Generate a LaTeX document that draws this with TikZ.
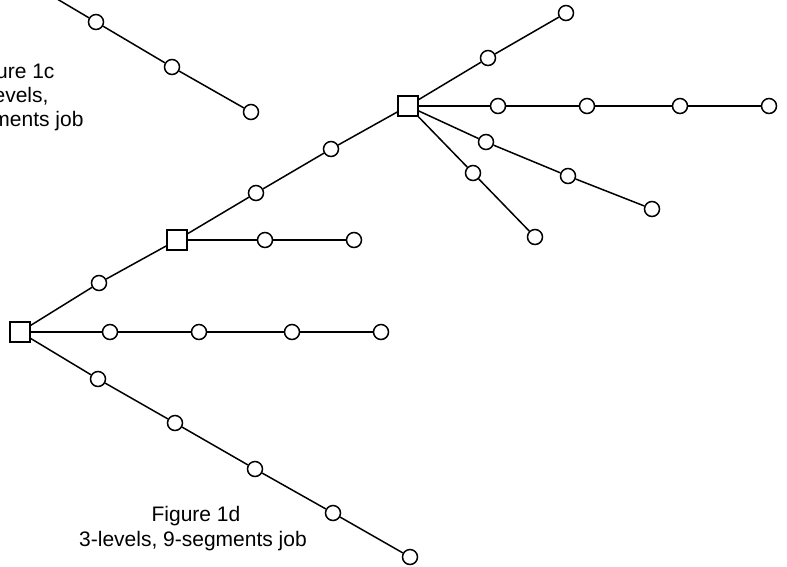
\documentclass[tikz,border=0pt]{standalone}
\usepackage{fontspec}
\setmainfont{Liberation Sans}
\begin{document}
\begin{tikzpicture}[x=1pt,y=-1pt,
  seg/.style={circle,draw,line width=1.5pt,fill=white,minimum size=15pt,inner sep=0pt},
  lvl/.style={rectangle,draw,line width=1.5pt,fill=white,minimum size=20pt,inner sep=0pt},
  link/.style={line width=1.5pt},
  caption/.style={font=\fontsize{21}{25}\selectfont,align=center}]
\useasboundingbox (0,0) rectangle (787,566);
\clip (0,0) rectangle (787,566);

% level nodes
\node[lvl] (A) at (20,332) {};
\node[lvl] (B) at (177,240) {};
\node[lvl] (C) at (408,106) {};

% segments
\foreach \n/\x/\y in {a1/110/332,a2/199/332,a3/292/332,a4/381/332,
  u1/99/283,
  b1/265/240,b2/354/240,
  c1/256/193,c2/331/149,
  h1/498/106,h2/587/106,h3/680/106,h4/769/106,
  r1/488/58,r2/566/13,
  s1/486/142,s2/568/176,s3/652/209,
  t1/473/173,t2/535/237,
  d1/98/379,d2/175/423,d3/255/469,d4/333/513,d5/410/557,
  k1/96/22,k2/172/67,k3/251/112}
  \node[seg] (\n) at (\x,\y) {};

% the first chain runs in from beyond the top edge
\coordinate (k0) at (20,-23);

% connectors
\draw[link] (A) -- (a1) -- (a2) -- (a3) -- (a4);
\draw[link] (A) -- (u1) -- (B);
\draw[link] (B) -- (b1) -- (b2);
\draw[link] (B) -- (c1) -- (c2) -- (C);
\draw[link] (C) -- (h1) -- (h2) -- (h3) -- (h4);
\draw[link] (C) -- (r1) -- (r2);
\draw[link] (C) -- (s1) -- (s2) -- (s3);
\draw[link] (C) -- (t1) -- (t2);
\draw[link] (A) -- (d1) -- (d2) -- (d3) -- (d4) -- (d5);
\draw[link] (k0) -- (k1) -- (k2) -- (k3);

% captions
\node[caption,anchor=base] (cap1) at (196,521) {Figure 1d};
\node[caption,anchor=base] (cap2) at (193,546) {3-levels, 9-segments job};
\node[caption,anchor=base east] (cc1) at (58,78) {ure 1c};
\node[caption,anchor=base east] (cc2) at (52,102) {evels,};
\node[caption,anchor=base east] (cc3) at (87,126) {ments job};
\end{tikzpicture}
\end{document}
